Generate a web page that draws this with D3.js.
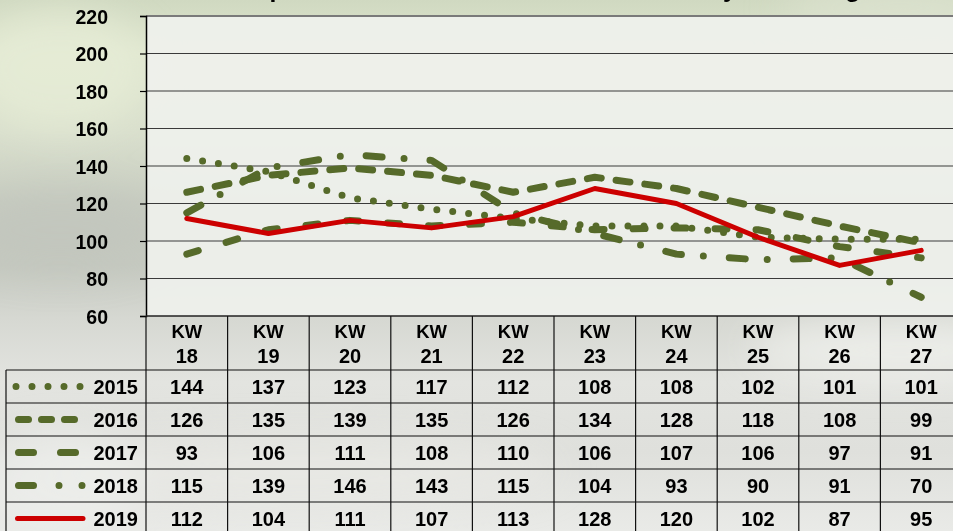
<!DOCTYPE html>
<html>
<head>
<meta charset="utf-8">
<script src="https://cdn.jsdelivr.net/npm/d3@7"></script>
<style>
  html, body { margin: 0; padding: 0; background: #d8ddd2; }
  svg { display: block; }
  text { font-family: "Liberation Sans", Arial, sans-serif; font-weight: bold; fill: #000; }
</style>
</head>
<body>
<svg id="chart" width="953" height="531"></svg>
<script>
// ---- data ----
const weeks = ["18", "19", "20", "21", "22", "23", "24", "25", "26", "27"];
const weekPrefix = "KW";
const years = ["2015", "2016", "2017", "2018", "2019"];
const values2015 = [144, 137, 123, 117, 112, 108, 108, 102, 101, 101];
const values2016 = [126, 135, 139, 135, 126, 134, 128, 118, 108, 99];
const values2017 = [93, 106, 111, 108, 110, 106, 107, 106, 97, 91];
const values2018 = [115, 139, 146, 143, 115, 104, 93, 90, 91, 70];
const values2019 = [112, 104, 111, 107, 113, 128, 120, 102, 87, 95];
const yTicks = [60, 80, 100, 120, 140, 160, 180, 200, 220];
const titleText = "Schweinepreise Kalenderwoche 18 bis 27 – Analyse im Vergleich";

const seriesValues = [values2015, values2016, values2017, values2018, values2019];

(function () {
// ---- styles ----
const green = "#566a2a";
const red = "#cc0000";
const styles = [
  { color: green, width: 7, plotDash: "0,16", legendDash: "0,16", legendOffset: 0 },
  { color: green, width: 7, plotDash: "14,15", legendDash: "10,13", legendOffset: -2.5 },
  { color: green, width: 7, plotDash: "12,29", legendDash: "15,27", legendOffset: -2.5 },
  { color: green, width: 7, plotDash: "16,22,0,26", legendDash: "15,25.5,0,23,0,100", legendOffset: -2.5 },
  { color: red, width: 5, plotDash: null, legendDash: null, legendOffset: 0 }
];

const svg = d3.select("#chart");
const W = 953, H = 531;
const pLeft = 146, pRight = 962, pTop = 16, pBottom = 316;

// ---- background ----
const defs = svg.append("defs");
const bg = defs.append("linearGradient").attr("id", "bg").attr("x1", 0).attr("y1", 0).attr("x2", 0).attr("y2", 1);
[[0, "#d0d9c1"], [0.1, "#dfe6cf"], [0.25, "#d9dfcd"], [0.38, "#c9cec2"], [0.5, "#c6cac1"], [0.6, "#d6d8d2"],
 [0.72, "#e3e4e0"], [0.85, "#dfe0dc"], [1, "#e9eae7"]].forEach(([o, c]) =>
  bg.append("stop").attr("offset", o).attr("stop-color", c));
svg.append("rect").attr("width", W).attr("height", H).attr("fill", "url(#bg)");

const blur = defs.append("filter").attr("id", "blur").attr("x", "-50%").attr("y", "-50%").attr("width", "200%").attr("height", "200%");
blur.append("feGaussianBlur").attr("stdDeviation", 18);
const blobs = svg.append("g").attr("filter", "url(#blur)");
blobs.append("ellipse").attr("cx", 60).attr("cy", 70).attr("rx", 90).attr("ry", 60).attr("fill", "#e6ecd6").attr("opacity", 0.8);
blobs.append("ellipse").attr("cx", 900).attr("cy", 8).attr("rx", 120).attr("ry", 20).attr("fill", "#dfe5d3").attr("opacity", 0.8);
blobs.append("ellipse").attr("cx", 60).attr("cy", 230).attr("rx", 110).attr("ry", 40).attr("fill", "#c0c5bc").attr("opacity", 0.7);
blobs.append("ellipse").attr("cx", 900).attr("cy", 350).attr("rx", 150).attr("ry", 30).attr("fill", "#eff0ec").attr("opacity", 0.8);
blobs.append("ellipse").attr("cx", 300).attr("cy", 470).attr("rx", 260).attr("ry", 35).attr("fill", "#e9eae6").attr("opacity", 0.7);
blobs.append("ellipse").attr("cx", 60).attr("cy", 480).attr("rx", 80).attr("ry", 50).attr("fill", "#eeefec").attr("opacity", 0.7);

// ---- title (cut off at top, only descenders visible) ----
const title = svg.append("text").attr("x", 0).attr("y", -3).attr("font-size", 26).text(titleText);
(function placeTitle() {
  const node = title.node();
  const iP = titleText.indexOf("p"), iY = titleText.indexOf("y");
  const mid = i => node.getSubStringLength(0, i) + node.getSubStringLength(i, 1) / 2;
  const d = mid(iY) - mid(iP);
  const fs = 26 * 453 / d;
  title.attr("font-size", fs);
  const px = mid(iP);
  title.attr("x", 277 - px);
})();

// ---- scales ----
const x = d3.scaleBand().domain(weeks).range([pLeft, pRight]).paddingInner(0).paddingOuter(0);
const y = d3.scaleLinear().domain([60, 220]).range([pBottom, pTop]);
const cx = w => x(w) + x.bandwidth() / 2;

// plot area
svg.append("rect").attr("x", pLeft).attr("y", pTop).attr("width", W - pLeft).attr("height", pBottom - pTop)
  .attr("fill", "#eff1ed").attr("opacity", 0.92);

// gridlines
svg.append("g").selectAll("line").data(yTicks.filter(t => t > 60)).join("line")
  .attr("x1", pLeft).attr("x2", W).attr("y1", d => y(d)).attr("y2", d => y(d))
  .attr("stroke", d => d === 220 ? "#7a7a7a" : "#3a3a3a")
  .attr("stroke-width", d => d === 220 ? 2 : 1.2);

// y axis
const yAxis = d3.axisLeft(y).tickValues(yTicks).tickSize(6).tickPadding(32).tickFormat(d3.format("d"));
const ga = svg.append("g").attr("transform", `translate(${pLeft},0)`).call(yAxis);
ga.select(".domain").attr("stroke", "#000").attr("stroke-width", 1.5);
ga.selectAll(".tick line").attr("stroke", "#000").attr("stroke-width", 1.2);
ga.selectAll(".tick text").attr("font-size", 19.5).attr("font-family", "Liberation Sans, Arial, sans-serif")
  .attr("font-weight", "bold").attr("fill", "#000").attr("dy", "0.36em");

// bottom axis line
svg.append("line").attr("x1", pLeft).attr("x2", W).attr("y1", pBottom).attr("y2", pBottom)
  .attr("stroke", "#222").attr("stroke-width", 1.5);

// ---- series lines ----
const line = d3.line().x((d, i) => cx(weeks[i])).y(d => y(d));
const lines = svg.append("g");
seriesValues.forEach((vals, k) => {
  const s = styles[k];
  lines.append("path").datum(vals).attr("d", line)
    .attr("fill", "none").attr("stroke", s.color).attr("stroke-width", s.width)
    .attr("stroke-linecap", "round").attr("stroke-linejoin", "round")
    .attr("stroke-dasharray", s.plotDash);
});

// ---- data table ----
const rowH = 33;
const rowTop0 = 370;
const tableLeft = 6;
const table = svg.append("g");
d3.range(years.length).forEach(i => {
  table.append("line").attr("x1", tableLeft).attr("x2", W)
    .attr("y1", rowTop0 + i * rowH).attr("y2", rowTop0 + i * rowH)
    .attr("stroke", "#111").attr("stroke-width", 1.2);
});
table.append("line").attr("x1", tableLeft).attr("x2", tableLeft).attr("y1", rowTop0).attr("y2", H)
  .attr("stroke", "#111").attr("stroke-width", 1.2);
weeks.forEach(w => {
  table.append("line").attr("x1", x(w)).attr("x2", x(w)).attr("y1", pBottom).attr("y2", H)
    .attr("stroke", "#111").attr("stroke-width", 1.2);
});
weeks.forEach(w => {
  table.append("text").attr("x", cx(w)).attr("y", 331).attr("dy", "0.36em")
    .attr("text-anchor", "middle").attr("font-size", 18.5).text(weekPrefix);
  table.append("text").attr("x", cx(w)).attr("y", 356).attr("dy", "0.36em")
    .attr("text-anchor", "middle").attr("font-size", 20).attr("font-weight", "normal").text(w);
});
years.forEach((yr, i) => {
  const cy = rowTop0 + i * rowH + rowH / 2;
  const s = styles[i];
  table.append("line").attr("x1", i === 4 ? 17.5 : 16).attr("x2", i === 4 ? 83 : 84).attr("y1", cy).attr("y2", cy)
    .attr("stroke", s.color).attr("stroke-width", s.width)
    .attr("stroke-linecap", "round").attr("stroke-dasharray", s.legendDash)
    .attr("stroke-dashoffset", s.legendOffset);
  table.append("text").attr("x", 138).attr("y", cy).attr("dy", "0.36em")
    .attr("text-anchor", "end").attr("font-size", 20).text(yr);
  seriesValues[i].forEach((v, j) => {
    table.append("text").attr("x", cx(weeks[j])).attr("y", cy).attr("dy", "0.36em")
      .attr("text-anchor", "middle").attr("font-size", 20).text(v);
  });
});
})();
</script>
</body>
</html>
